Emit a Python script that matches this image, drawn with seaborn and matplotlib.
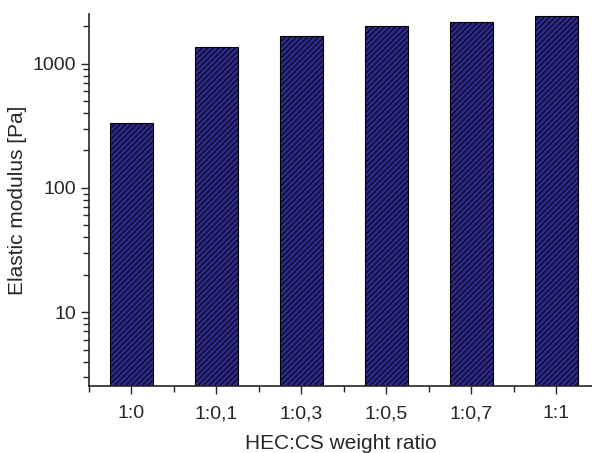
import pandas as pd
import matplotlib.pyplot as plt
import seaborn as sns
import numpy as np
from matplotlib.ticker import LogLocator, FixedLocator, NullFormatter

# elastic modulus
ratios = ['1:0', '1:0,1', '1:0,3', '1:0,5', '1:0,7', '1:1']
modulus = [331, 1370, 1680, 2000, 2175, 2430]

df = pd.DataFrame({'ratio': ratios, 'modulus': modulus})

sns.set_style('ticks')
plt.rcParams['font.family'] = ['Liberation Sans', 'DejaVu Sans']
plt.rcParams['hatch.linewidth'] = 0.7

fig = plt.figure(figsize=(5.92, 4.53), dpi=100)
ax = fig.add_axes([0.150, 0.148, 0.85, 0.821])
ax.set_yscale('log')

sns.barplot(data=df, x='ratio', y='modulus', color='#2e2a8c', width=0.5,
            edgecolor='black', linewidth=0.8, saturation=1, ax=ax)
for p in ax.patches:
    p.set_hatch('//////')

ax.set_xlim(-0.5, 5.42)
ax.set_ylim(2.55, 2500)

ax.yaxis.set_minor_locator(LogLocator(base=10, subs=np.arange(2, 10), numticks=20))
ax.yaxis.set_minor_formatter(NullFormatter())
ax.set_yticks([10, 100, 1000])
ax.set_yticklabels(['10', '100', '1000'])
ax.xaxis.set_minor_locator(FixedLocator(np.arange(-0.5, 5.6, 1)))

ax.tick_params(axis='both', which='major', length=6, width=1, labelsize=14, direction='out')
ax.tick_params(axis='x', which='major', pad=8)
ax.tick_params(axis='y', which='major', pad=3)
ax.tick_params(axis='both', which='minor', length=4, width=1, direction='out')

sns.despine(ax=ax)
ax.spines['left'].set_linewidth(1.2)
ax.spines['bottom'].set_linewidth(1.2)

ax.set_xlabel('HEC:CS weight ratio', fontsize=15, labelpad=8)
ax.set_ylabel('Elastic modulus [Pa]', fontsize=15, labelpad=4)

fig.savefig('out.png', dpi=100)
